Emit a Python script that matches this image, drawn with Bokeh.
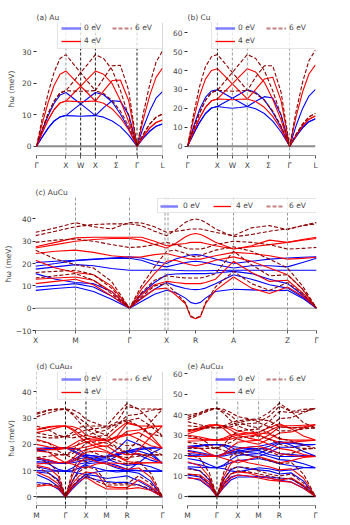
from bokeh.plotting import figure
from bokeh.models import Span, FixedTicker, Legend, LegendItem
from bokeh.layouts import column, row
from bokeh.embed import file_html
from bokeh.resources import INLINE

FONT = "DejaVu Sans"
C0, C4, C6 = "#0000ff", "#ff0000", "#8b0000"
GRAY, BLACK = "#8c8c8c", "#000000"

# ---------------- data ----------------
LABELS = ["0 eV", "4 eV", "6 eV"]

FCC_K = [0, 0.2, 0.4, 0.6, 0.8, 1.0, 1.25, 1.5, 1.75, 2.0, 2.28, 2.57, 2.85, 3.13, 3.414, 3.63, 3.85, 4.06, 4.28]
FCC_TICKS = [0, 1.0, 1.5, 2.0, 2.707, 3.414, 4.28]
FCC_TICKLABELS = ["Γ", "X", "W", "X", "Σ", "Γ", "L"]

AU_0EV = [
    [0, 3.0, 5.8, 8.0, 9.3, 9.7, 9.6, 9.5, 9.6, 9.7, 9.2, 8.0, 6.2, 3.5, 0, 2.6, 4.8, 6.3, 7.0],
    [0, 3.0, 5.8, 8.0, 9.3, 9.7, 11.6, 13.4, 15.2, 17.0, 16.3, 14.0, 10.2, 5.5, 0, 2.6, 4.8, 6.3, 7.0],
    [0, 5.2, 9.8, 13.6, 16.2, 17.0, 15.2, 13.4, 11.6, 9.7, 12.2, 14.4, 14.2, 10.0, 0, 6.0, 11.2, 15.2, 17.3],
]
AU_4EV = [
    [0, 4.4, 8.4, 11.6, 13.7, 14.3, 14.2, 14.1, 14.2, 14.3, 13.6, 11.8, 9.0, 5.2, 0, 3.1, 5.8, 7.5, 8.3],
    [0, 4.4, 8.4, 11.6, 13.7, 14.3, 16.7, 19.0, 21.4, 23.8, 22.8, 19.8, 14.5, 7.8, 0, 3.1, 5.8, 7.5, 8.3],
    [0, 7.4, 14.0, 19.3, 22.8, 23.8, 21.4, 19.0, 16.7, 14.3, 17.5, 20.8, 21.0, 14.5, 0, 8.6, 16.2, 21.8, 24.8],
]
AU_6EV = [
    [0, 5.4, 10.4, 14.3, 16.9, 17.6, 17.5, 17.4, 17.5, 17.6, 16.7, 14.5, 11.1, 6.4, 0, 3.8, 7.1, 9.2, 10.2],
    [0, 5.4, 10.4, 14.3, 16.9, 17.6, 20.4, 23.3, 26.1, 29.0, 27.8, 24.2, 17.7, 9.5, 0, 3.8, 7.1, 9.2, 10.2],
    [0, 9.0, 17.0, 23.5, 27.8, 29.0, 26.1, 23.3, 20.4, 17.6, 21.5, 25.5, 25.6, 17.7, 0, 10.5, 19.7, 26.6, 30.2],
]

CU_0EV = [
    [0, 6.5, 12.5, 17.3, 20.2, 21.0, 20.5, 20.1, 20.5, 21.0, 19.8, 17.3, 13.3, 7.5, 0, 5.2, 9.8, 13.0, 14.5],
    [0, 6.5, 12.5, 17.3, 20.2, 21.0, 23.2, 25.4, 27.6, 29.8, 28.5, 24.5, 18.0, 10.0, 0, 5.2, 9.8, 13.0, 14.5],
    [0, 10.2, 19.3, 25.8, 29.2, 29.8, 27.6, 25.4, 23.2, 21.0, 23.8, 26.2, 25.5, 16.5, 0, 10.8, 20.0, 26.5, 30.0],
]
CU_4EV = [
    [0, 7.7, 14.8, 20.5, 24.0, 25.0, 24.8, 24.6, 24.8, 25.0, 23.6, 20.6, 15.8, 9.0, 0, 5.7, 10.8, 14.3, 16.0],
    [0, 7.7, 14.8, 20.5, 24.0, 25.0, 29.0, 33.0, 37.0, 41.0, 39.2, 33.8, 24.8, 13.8, 0, 5.7, 10.8, 14.3, 16.0],
    [0, 14.0, 26.5, 35.5, 40.0, 41.0, 37.0, 33.0, 29.0, 25.0, 30.0, 35.5, 36.5, 24.0, 0, 15.5, 28.8, 38.2, 43.0],
]
CU_6EV = [
    [0, 9.1, 17.5, 24.2, 28.4, 29.5, 29.3, 29.1, 29.3, 29.5, 27.9, 24.3, 18.6, 10.6, 0, 6.2, 11.7, 15.5, 17.3],
    [0, 9.1, 17.5, 24.2, 28.4, 29.5, 34.3, 39.0, 43.8, 48.5, 46.4, 40.0, 29.3, 16.3, 0, 6.2, 11.7, 15.5, 17.3],
    [0, 16.6, 31.4, 42.0, 47.3, 48.5, 43.8, 39.0, 34.3, 29.5, 36.5, 42.5, 42.5, 28.5, 0, 18.3, 34.0, 45.2, 50.9],
]

TET_K = [0.00, 0.20, 0.40, 0.58, 0.76, 0.94, 1.06, 1.19, 1.31, 1.40, 1.50, 1.55, 1.60, 1.65, 1.70, 1.80,
         1.98, 2.16, 2.34, 2.52, 2.67, 2.81]
TET_TICKS = [0.00, 0.40, 0.94, 1.31, 1.60, 1.98, 2.52, 2.81]
TET_TICKLABELS = ["X", "M", "Γ", "X", "R", "A", "Z", "Γ"]

AUCU_0EV = [
    [8.0, 8.8, 9.5, 7.5, 4.0, 0, 3.0, 6.2, 8.0, 7.0, 4.5, 2.6, 2.0, 2.6, 4.5, 7.5, 8.5, 8.2, 7.8, 8.0, 4.5, 0],
    [9.5, 10.2, 11.0, 9.5, 5.5, 0, 4.5, 8.5, 11.5, 10.0, 8.8, 8.5, 8.3, 8.5, 9.0, 11.0, 15.0, 13.0, 10.5, 9.0, 5.0, 0],
    [15.5, 13.0, 11.5, 11.0, 7.5, 0, 6.5, 11.5, 15.0, 15.3, 15.5, 15.5, 15.5, 15.5, 15.5, 15.8, 16.5, 15.5, 13.0, 11.0, 6.0, 0],
    [17.5, 18.5, 19.5, 19.0, 17.8, 17.0, 17.0, 17.0, 17.3, 17.0, 16.8, 16.8, 16.8, 16.8, 16.8, 16.9, 17.0, 17.0, 17.0, 17.0, 17.0, 17.0],
    [18.8, 20.0, 21.3, 21.8, 22.3, 22.4, 21.5, 19.5, 18.5, 19.5, 20.5, 20.8, 21.0, 20.8, 20.5, 19.5, 18.0, 19.0, 19.0, 18.5, 20.5, 22.4],
    [20.5, 21.0, 21.5, 22.0, 22.5, 23.0, 22.5, 21.0, 20.0, 22.0, 23.3, 23.8, 24.0, 23.8, 23.3, 22.0, 20.0, 21.0, 22.0, 22.5, 22.8, 23.0],
]
AUCU_4EV = [
    [11.0, 12.0, 13.0, 10.5, 5.5, 0, 4.2, 8.5, 9.0, 6.0, 2.0, -3.8, -4.7, -3.8, 2.0, 8.0, 14.0, 9.0, 6.6, 9.5, 5.5, 0],
    [13.0, 13.5, 14.0, 12.5, 7.5, 0, 6.0, 10.5, 12.0, 11.5, 11.0, 11.0, 11.0, 11.0, 11.5, 13.0, 21.0, 16.0, 12.0, 12.5, 7.0, 0],
    [21.5, 18.0, 16.0, 15.0, 10.0, 0, 8.5, 15.5, 21.0, 21.5, 20.0, 19.5, 19.0, 19.5, 20.0, 21.5, 23.0, 21.0, 18.0, 15.0, 8.5, 0],
    [24.5, 25.5, 26.0, 25.0, 23.5, 22.8, 23.0, 24.0, 24.5, 23.5, 22.5, 22.0, 22.0, 22.0, 22.5, 23.5, 25.0, 24.5, 23.5, 22.0, 22.3, 22.8],
    [27.0, 28.5, 30.0, 30.8, 31.2, 31.2, 30.5, 28.5, 27.0, 29.0, 32.0, 33.0, 33.5, 33.0, 32.0, 29.5, 26.5, 27.5, 28.5, 29.5, 30.5, 31.2],
    [27.5, 29.5, 31.5, 31.8, 31.8, 31.8, 31.8, 30.0, 28.0, 28.5, 29.0, 29.5, 29.5, 29.5, 29.0, 28.0, 26.5, 28.0, 30.5, 29.5, 30.8, 31.8],
]
AUCU_6EV = [
    [13.5, 14.5, 15.5, 12.5, 6.5, 0, 5.0, 10.0, 11.0, 7.0, 2.5, -3.5, -4.5, -3.5, 2.5, 9.5, 16.5, 11.0, 8.0, 11.5, 6.5, 0],
    [16.0, 16.5, 17.0, 15.0, 9.0, 0, 7.0, 12.5, 14.5, 14.0, 13.5, 13.5, 13.5, 13.5, 14.0, 15.5, 25.5, 19.5, 14.5, 15.0, 8.5, 0],
    [26.0, 22.0, 19.5, 18.0, 12.0, 0, 10.0, 18.5, 25.5, 26.0, 24.5, 23.5, 23.0, 23.5, 24.5, 26.0, 27.5, 25.5, 22.0, 18.0, 10.0, 0],
    [29.5, 30.5, 31.0, 30.0, 28.5, 27.2, 27.5, 28.5, 29.5, 28.5, 27.0, 26.5, 26.5, 26.5, 27.0, 28.5, 30.0, 29.5, 28.5, 26.5, 26.8, 27.2],
    [32.5, 34.5, 36.5, 37.5, 37.8, 37.8, 37.0, 34.5, 32.5, 35.0, 38.5, 39.5, 40.0, 39.5, 38.5, 35.5, 32.0, 33.0, 34.5, 35.5, 37.0, 37.8],
    [34.0, 36.0, 38.3, 36.5, 35.5, 38.4, 38.2, 36.5, 34.0, 34.5, 35.0, 35.5, 35.5, 35.5, 35.0, 34.0, 32.5, 36.0, 37.0, 35.2, 37.0, 38.4],
]

SC_K = [0, 0.6, 1.05, 1.414, 1.75, 2.08, 2.414, 2.914, 3.414, 3.914, 4.414, 4.99, 5.57, 6.146]
SC_TICKS = [0, 1.414, 2.414, 3.414, 4.414, 6.146]
SC_TICKLABELS = ["M", "Γ", "X", "M", "R", "Γ"]

CUAU3_0EV = [
    [5.5, 5.0, 3.0, 0, 3.0, 5.5, 7.8, 6.5, 5.8, 5.5, 5.5, 4.5, 2.5, 0],
    [8.5, 6.5, 4.0, 0, 4.0, 6.5, 8.5, 8.0, 7.0, 7.5, 8.0, 6.0, 3.5, 0],
    [9.5, 9.0, 6.5, 0, 6.0, 10.5, 12.0, 11.0, 10.0, 9.5, 9.8, 9.0, 6.0, 0],
    [10.0, 9.8, 9.8, 9.8, 9.5, 9.0, 8.5, 9.5, 10.0, 10.0, 10.0, 10.0, 9.8, 9.8],
    [11.5, 10.5, 9.9, 9.8, 10.0, 11.0, 12.5, 13.0, 13.0, 12.0, 10.5, 10.0, 9.8, 9.8],
    [13.0, 12.5, 10.5, 9.8, 11.0, 12.5, 13.0, 14.0, 14.5, 13.0, 12.0, 12.5, 11.5, 9.8],
    [13.5, 13.0, 12.8, 12.8, 13.0, 13.5, 14.0, 14.5, 15.0, 16.5, 17.5, 16.0, 14.0, 12.8],
    [14.5, 13.5, 13.0, 12.8, 13.5, 14.5, 15.0, 15.2, 15.3, 16.0, 17.0, 17.5, 16.0, 12.8],
    [15.0, 14.0, 13.0, 12.8, 14.0, 15.5, 15.8, 15.6, 15.5, 18.0, 21.8, 20.0, 17.0, 12.8],
    [17.5, 18.0, 18.5, 18.7, 17.5, 16.0, 15.0, 13.5, 12.5, 11.0, 10.0, 13.0, 16.5, 18.7],
    [18.0, 18.5, 18.7, 18.7, 18.0, 16.5, 15.5, 14.0, 13.5, 15.5, 17.5, 18.0, 18.5, 18.7],
    [18.5, 18.7, 18.7, 18.7, 18.5, 18.0, 16.0, 15.5, 15.0, 16.0, 17.5, 18.5, 18.7, 18.7],
]
CUAU3_4EV = [
    [4.0, 4.5, 3.5, 0, 3.5, 6.0, 7.5, 5.0, 3.0, 3.0, 3.0, 3.5, 2.5, 0],
    [9.5, 7.5, 5.0, 0, 5.0, 8.0, 9.5, 9.0, 4.0, 3.5, 3.5, 6.5, 4.0, 0],
    [12.0, 11.0, 8.0, 0, 8.0, 13.0, 15.0, 13.5, 12.5, 11.5, 10.5, 11.0, 7.5, 0],
    [12.5, 12.8, 13.0, 13.0, 12.5, 11.5, 11.0, 12.5, 13.0, 12.8, 12.5, 12.8, 13.0, 13.0],
    [15.0, 14.0, 13.2, 13.0, 13.5, 15.0, 17.0, 17.5, 17.0, 15.5, 13.5, 13.0, 13.0, 13.0],
    [17.5, 17.0, 14.5, 13.0, 14.5, 17.0, 18.0, 19.0, 19.5, 17.0, 16.0, 16.5, 15.0, 13.0],
    [18.5, 18.0, 18.0, 18.5, 18.0, 18.5, 19.0, 20.0, 21.0, 23.0, 24.0, 22.0, 19.5, 18.5],
    [20.0, 19.0, 18.5, 18.5, 19.0, 20.0, 21.0, 21.5, 21.5, 22.5, 23.5, 24.5, 22.0, 18.5],
    [22.0, 20.5, 19.0, 18.5, 20.0, 21.5, 22.0, 22.0, 22.0, 25.5, 28.5, 27.0, 23.5, 18.5],
    [24.5, 25.5, 26.5, 27.0, 25.5, 23.0, 21.0, 19.0, 17.5, 15.5, 14.0, 18.0, 23.0, 27.0],
    [25.5, 26.5, 27.0, 27.0, 26.0, 24.0, 22.5, 20.0, 19.0, 22.0, 25.0, 25.5, 26.5, 27.0],
    [25.8, 26.8, 27.0, 27.0, 26.8, 26.0, 23.5, 22.5, 21.5, 23.0, 28.0, 27.0, 27.0, 27.0],
]
CUAU3_6EV = [
    [4.5, 5.0, 4.0, 0, 4.0, 7.0, 8.5, 6.0, 4.5, 4.5, 4.5, 4.5, 3.0, 0],
    [11.5, 9.0, 6.0, 0, 6.0, 9.5, 11.5, 10.5, 5.5, 5.0, 5.0, 8.0, 5.0, 0],
    [14.5, 13.0, 9.5, 0, 9.5, 15.5, 18.0, 16.5, 15.0, 14.0, 12.5, 13.5, 9.0, 0],
    [15.0, 15.5, 16.0, 16.0, 15.0, 14.0, 13.5, 15.0, 15.5, 15.5, 15.0, 15.5, 16.0, 16.0],
    [18.0, 17.0, 16.2, 16.0, 16.5, 18.0, 20.5, 21.0, 20.5, 18.5, 16.5, 16.0, 16.0, 16.0],
    [21.5, 20.5, 17.5, 16.0, 17.5, 20.5, 22.0, 23.0, 23.5, 20.5, 19.5, 20.0, 18.0, 16.0],
    [23.0, 22.5, 22.5, 23.0, 22.5, 23.0, 23.5, 24.5, 25.5, 28.0, 29.5, 27.0, 24.0, 23.0],
    [24.5, 23.5, 23.0, 23.0, 23.5, 24.5, 25.5, 26.0, 26.5, 27.5, 29.0, 30.0, 27.0, 23.0],
    [27.0, 25.5, 23.5, 23.0, 24.5, 26.5, 27.0, 27.0, 27.0, 31.5, 35.5, 33.5, 29.0, 23.0],
    [30.5, 32.0, 33.0, 33.5, 31.5, 28.5, 26.0, 23.5, 21.5, 19.0, 17.0, 22.0, 28.5, 33.5],
    [31.5, 33.0, 33.5, 33.5, 32.0, 30.0, 28.0, 25.0, 23.5, 27.0, 31.0, 31.5, 33.0, 33.5],
    [32.0, 33.2, 33.5, 33.5, 33.2, 32.0, 29.5, 28.0, 26.5, 28.5, 34.5, 33.5, 33.5, 33.5],
]

AUCU3_0EV = [
    [9.5, 8.0, 4.5, 0, 4.5, 8.0, 9.5, 9.5, 9.5, 9.0, 8.0, 7.0, 4.0, 0],
    [10.5, 9.5, 6.0, 0, 6.0, 9.5, 10.5, 10.0, 9.8, 9.5, 9.0, 8.5, 5.0, 0],
    [14.0, 12.5, 8.0, 0, 8.5, 13.0, 14.5, 13.5, 13.0, 12.5, 11.0, 11.5, 7.5, 0],
    [14.5, 14.2, 14.0, 14.0, 13.5, 12.5, 12.0, 13.0, 14.0, 13.5, 12.5, 13.0, 14.0, 14.0],
    [16.5, 15.5, 14.2, 14.0, 15.0, 16.5, 17.5, 18.0, 18.5, 17.5, 16.0, 15.0, 14.2, 14.0],
    [18.5, 17.5, 15.5, 14.0, 15.5, 18.0, 20.0, 20.5, 21.0, 19.5, 18.0, 17.5, 16.0, 14.0],
    [20.0, 19.8, 19.7, 19.7, 19.8, 20.5, 21.5, 22.0, 22.5, 20.5, 19.5, 19.5, 19.7, 19.7],
    [21.0, 20.5, 20.0, 19.7, 20.5, 21.5, 22.0, 23.0, 23.5, 23.0, 21.0, 20.5, 20.0, 19.7],
    [22.5, 21.5, 20.5, 19.7, 21.0, 22.5, 23.0, 24.0, 24.5, 25.5, 27.0, 25.0, 22.0, 19.7],
    [23.5, 24.5, 25.2, 25.4, 24.5, 22.5, 21.0, 20.0, 19.5, 21.5, 24.0, 24.0, 25.0, 25.4],
    [24.0, 24.8, 25.3, 25.4, 25.0, 24.0, 22.5, 21.5, 21.0, 23.0, 26.0, 26.0, 25.3, 25.4],
    [24.5, 25.0, 25.4, 25.4, 25.2, 24.5, 24.0, 23.5, 23.0, 24.5, 26.5, 26.5, 25.5, 25.4],
]
AUCU3_4EV = [
    [9.0, 8.5, 5.0, 0, 5.0, 9.0, 10.5, 10.0, 9.0, 8.0, 7.5, 7.0, 4.0, 0],
    [11.0, 10.5, 7.0, 0, 7.0, 11.0, 12.0, 11.5, 10.0, 9.0, 8.0, 9.0, 5.5, 0],
    [17.0, 15.0, 9.5, 0, 10.0, 16.0, 18.0, 16.5, 15.5, 14.5, 13.0, 13.5, 9.0, 0],
    [19.5, 19.5, 19.5, 19.5, 18.5, 17.5, 16.5, 18.0, 19.5, 18.0, 16.5, 17.5, 19.0, 19.5],
    [22.0, 21.0, 20.0, 19.5, 20.5, 22.0, 23.5, 24.0, 24.5, 23.0, 21.0, 20.0, 19.5, 19.5],
    [24.5, 23.5, 21.0, 19.5, 21.0, 24.0, 26.5, 27.0, 27.5, 25.5, 23.5, 22.5, 20.5, 19.5],
    [27.0, 27.2, 27.5, 27.5, 27.5, 28.0, 29.0, 29.5, 30.0, 28.0, 26.5, 26.5, 27.0, 27.5],
    [28.5, 28.0, 27.8, 27.5, 28.0, 29.0, 30.0, 30.5, 31.0, 30.5, 28.0, 27.5, 27.5, 27.5],
    [30.0, 29.0, 28.0, 27.5, 28.5, 30.0, 30.5, 31.0, 31.5, 33.5, 35.5, 33.0, 29.5, 27.5],
    [30.5, 32.5, 34.0, 35.0, 33.0, 30.0, 28.0, 26.5, 25.5, 28.0, 31.0, 31.5, 33.5, 35.0],
    [31.5, 33.0, 34.5, 35.0, 34.0, 32.5, 30.0, 28.5, 27.5, 30.0, 34.0, 33.5, 34.0, 35.0],
    [32.0, 33.5, 35.0, 35.0, 34.5, 33.5, 32.0, 31.0, 30.0, 32.0, 34.5, 34.5, 34.8, 35.0],
]
AUCU3_6EV = [
    [11.0, 10.0, 6.0, 0, 6.0, 11.0, 12.5, 12.0, 11.0, 10.0, 9.0, 8.5, 5.0, 0],
    [13.5, 12.5, 8.5, 0, 8.5, 13.5, 14.5, 14.0, 12.5, 11.0, 10.0, 11.0, 6.5, 0],
    [21.0, 18.5, 11.5, 0, 12.0, 19.5, 22.0, 20.0, 19.0, 17.5, 16.0, 16.5, 11.0, 0],
    [23.5, 23.5, 23.5, 23.5, 22.5, 21.0, 20.0, 22.0, 23.5, 22.0, 20.0, 21.0, 23.0, 23.5],
    [26.5, 25.5, 24.0, 23.5, 25.0, 26.5, 28.5, 29.0, 29.5, 28.0, 25.5, 24.0, 23.5, 23.5],
    [29.5, 28.5, 25.5, 23.5, 25.5, 29.0, 32.0, 32.5, 33.0, 31.0, 28.5, 27.0, 25.0, 23.5],
    [32.5, 33.0, 33.5, 33.5, 33.5, 34.0, 35.0, 35.5, 36.0, 34.0, 32.0, 32.0, 33.0, 33.5],
    [34.5, 34.0, 33.8, 33.5, 34.0, 35.0, 36.0, 37.0, 37.5, 37.0, 34.0, 33.5, 33.5, 33.5],
    [36.5, 35.0, 34.0, 33.5, 34.5, 36.0, 37.0, 37.5, 38.0, 41.0, 45.5, 41.5, 36.0, 33.5],
    [37.5, 40.0, 42.0, 43.0, 40.5, 37.0, 34.5, 32.5, 31.0, 34.0, 38.0, 38.5, 41.0, 43.0],
    [38.5, 40.5, 42.5, 43.0, 41.5, 39.5, 36.5, 34.5, 33.5, 36.5, 41.5, 41.0, 41.5, 43.0],
    [39.5, 41.0, 42.8, 43.0, 42.5, 41.0, 39.0, 38.0, 36.5, 39.0, 44.0, 41.5, 42.5, 43.0],
]


def panel(title, k, tpos, tlab, sets, yr, yt, ylab, vlines, endline,
          fw, fh, bl, br, bt, bb, legloc, horiz, zero, lstand=3, tstand=2):
    p = figure(frame_width=fw, frame_height=fh, x_range=(k[0], k[-1]), y_range=yr,
               output_backend="svg", toolbar_location=None,
               min_border_left=bl, min_border_right=br, min_border_top=bt, min_border_bottom=bb)
    p.title.text = title
    p.title.text_font = FONT
    p.title.text_font_size = "7.5px"
    p.title.text_font_style = "normal"
    p.title.align = "left"
    p.title.standoff = 2
    p.grid.visible = False
    p.outline_line_color = None

    zc, zw = zero
    p.add_layout(Span(location=0, dimension="width", line_color=zc, line_width=zw, level="underlay"))
    for x, c in vlines:
        p.add_layout(Span(location=x, dimension="height", line_color=c, line_width=0.9, line_dash="3 2"))
    if endline:
        p.add_layout(Span(location=k[-1], dimension="height", line_color="#b0b0b0", line_width=1))

    b0, b4, b6 = sets
    p.multi_line([k] * len(b0), b0, line_color=C0, line_width=1.1)
    p.multi_line([k] * len(b4), b4, line_color=C4, line_width=1.1)
    p.multi_line([k] * len(b6), b6, line_color=C6, line_width=1.1, line_dash="4 2")

    # hidden copies of one branch, used only as legend handles
    g0 = p.line(k, b0[0], line_color=C0, line_width=2.5, line_alpha=0.5, visible=False)
    g4 = p.line(k, b4[0], line_color=C4, line_width=1.3, visible=False)
    g6 = p.line(k, b6[0], line_color=C6, line_width=2.0, line_alpha=0.5, line_dash="4 2", visible=False)
    leg = Legend(items=[LegendItem(label=LABELS[0], renderers=[g0]),
                        LegendItem(label=LABELS[1], renderers=[g4]),
                        LegendItem(label=LABELS[2], renderers=[g6])],
                 location=legloc, orientation="horizontal" if horiz else "vertical")
    if not horiz:
        leg.ncols = 2
    leg.label_text_font = FONT
    leg.label_text_font_size = "7.5px"
    leg.glyph_width = 20 if not horiz else 18
    leg.glyph_height = 8
    leg.label_height = 8
    leg.label_width = 24 if not horiz else 25
    leg.label_standoff = 3 if not horiz else 5
    leg.spacing = 4 if not horiz else 5
    leg.padding = 3 if not horiz else 2
    leg.margin = 0
    leg.border_line_color = "#cccccc"
    leg.background_fill_alpha = 0.8
    leg.click_policy = "none"
    p.add_layout(leg)

    p.xaxis.ticker = FixedTicker(ticks=tpos)
    p.xaxis.major_label_overrides = {float(t): l for t, l in zip(tpos, tlab)}
    p.yaxis.ticker = FixedTicker(ticks=yt)
    p.yaxis.major_label_overrides = {float(t): ("−" + str(-t) if t < 0 else str(t)) for t in yt}
    for ax in (p.xaxis, p.yaxis):
        ax.major_label_text_font = FONT
        ax.major_label_text_font_size = "7.5px"
        ax.minor_tick_line_color = None
        ax.major_tick_out = 3
        ax.major_tick_in = 0
    p.xaxis.major_label_standoff = 2
    p.yaxis.major_label_standoff = tstand
    p.xaxis.axis_line_color = "#9a9a9a"
    p.xaxis.major_tick_line_color = "#555555"
    p.yaxis.axis_line_color = None
    p.yaxis.major_tick_line_color = "#333333"
    if ylab:
        p.yaxis.axis_label = "ħω (meV)"
        p.yaxis.axis_label_text_font = FONT
        p.yaxis.axis_label_text_font_size = "7.5px"
        p.yaxis.axis_label_text_font_style = "normal"
        p.yaxis.axis_label_standoff = lstand
    return p


pa = panel("(a) Au", FCC_K, FCC_TICKS, FCC_TICKLABELS, (AU_0EV, AU_4EV, AU_6EV),
           (-2.95, 39.2), [0, 10, 20, 30], True,
           [(1.0, GRAY), (1.5, BLACK), (2.0, BLACK), (3.414, BLACK)], True,
           126, 133, 36, 3, 22, 21, (21, 106), False, (GRAY, 2))
pb = panel("(b) Cu", FCC_K, FCC_TICKS, FCC_TICKLABELS, (CU_0EV, CU_4EV, CU_6EV),
           (-4.9, 65.4), [0, 10, 20, 30, 40, 50, 60], False,
           [(1.0, BLACK), (1.5, GRAY), (2.0, GRAY), (3.414, GRAY)], False,
           128, 133, 22, 10, 22, 21, (24, 106), False, (GRAY, 2))
pc = panel("(c) AuCu", TET_K, TET_TICKS, TET_TICKLABELS, (AUCU_0EV, AUCU_4EV, AUCU_6EV),
           (-10, 49.6), [-10, 0, 10, 20, 30, 40], True,
           [(0.40, GRAY), (0.94, GRAY), (1.295, GRAY), (1.325, GRAY), (1.98, GRAY), (2.52, GRAY)], False,
           281, 133, 33, 10, 21, 20, (122, 117), True, (GRAY, 1), lstand=0, tstand=1)
pd = panel("(d) CuAu₃", SC_K, SC_TICKS, SC_TICKLABELS, (CUAU3_0EV, CUAU3_4EV, CUAU3_6EV),
           (-3.3, 47.8), [0, 10, 20, 30, 40], True,
           [(0, GRAY), (1.414, BLACK), (2.414, BLACK), (3.414, GRAY), (4.414, BLACK)], True,
           126, 134, 36, 3, 21, 17, (21, 105), False, (BLACK, 1.3))
pe = panel("(e) AuCu₃", SC_K, SC_TICKS, SC_TICKLABELS, (AUCU3_0EV, AUCU3_4EV, AUCU3_6EV),
           (-4.4, 61), [0, 10, 20, 30, 40, 50, 60], False,
           [(1.414, BLACK), (2.414, GRAY), (3.414, GRAY), (4.414, BLACK)], False,
           128, 134, 22, 10, 21, 17, (24, 105), False, (BLACK, 1.3))

layout = column(row(pa, pb, spacing=0), pc, row(pd, pe, spacing=0), spacing=0)
open("out.html", "w").write(file_html(layout, INLINE))
